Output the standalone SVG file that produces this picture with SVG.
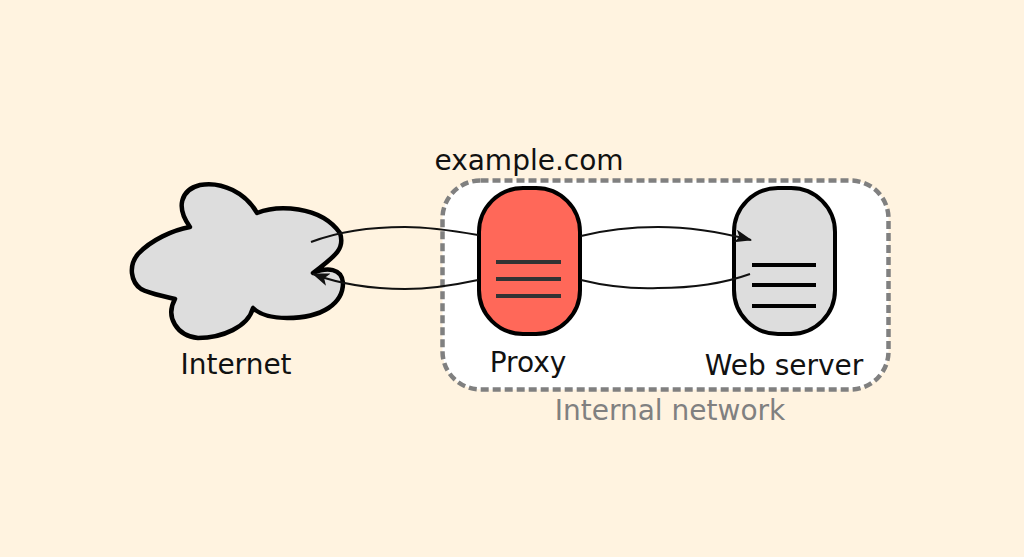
<svg xmlns="http://www.w3.org/2000/svg" width="1024" height="557" viewBox="0 0 1024 557">
<style>
text{font-family:"DejaVu Sans",sans-serif;font-size:28px;fill:#111}
.srv{stroke:#000;stroke-width:4}
.bar{stroke-width:4;fill:none}
.conn{fill:none;stroke:#111;stroke-width:2}
</style>
<defs>
<marker id="ah" viewBox="0 0 16 12" refX="15" refY="6" markerWidth="18" markerHeight="13" markerUnits="userSpaceOnUse" orient="auto"><path d="M0 0L16 6L0 12L4 6Z" fill="#111"/></marker>
</defs>
<rect width="1024" height="557" fill="#fff3e0"/>
<g id="internal-network">
<rect x="442.500" y="180.500" width="446" height="209" rx="38" fill="#fff" stroke="#808080" stroke-width="4.500" stroke-dasharray="8 4"/>
<text x="670" y="419.500" text-anchor="middle" style="fill:#808080">Internal network</text>
<text x="529" y="169.500" text-anchor="middle">example.com</text>
</g>
<g id="internet">
<path d="M190 227C176 208 180 190 200 185C222 181 246 193 257 213C277 205 320 205 340 233C345 248 337 255 313 273C327 267 342 268 343 283C343 303 323 318 287 318C270 318 260 315 253 308C248 327 222 338 198 338C177 336 165 317 175 299C160 295 150 294 141 289C131 282 128 266 138 254C151 240 173 230 190 227Z" fill="#ddd" stroke="#000" stroke-width="4.500" stroke-linejoin="round"/>
<text x="236" y="373.500" text-anchor="middle">Internet</text>
</g>
<g id="proxy">
<rect class="srv" x="479" y="188" width="101" height="146" rx="44" fill="#ff6859"/>
<path class="bar" stroke="#333" d="M496 262H561M496 279H561M496 296H561"/>
<text x="528" y="371.500" text-anchor="middle">Proxy</text>
</g>
<g id="web-server">
<rect class="srv" x="734" y="188" width="101" height="146" rx="44" fill="#ddd"/>
<path class="bar" stroke="#000" d="M752 265H816M752 285H816M752 306H816"/>
<text x="784" y="374.500" text-anchor="middle">Web server</text>
</g>
<g id="connectors">
<path class="conn" d="M311 242C340 231 370 227 405 227C430 227 455 231 478 235"/>
<path class="conn" d="M478 280C455 285 430 289 405 289C370 289 340 284 313 274" marker-end="url(#ah)"/>
<path class="conn" d="M581 236C605 230 630 227 658 227C690 227 720 232 751 240" marker-end="url(#ah)"/>
<path class="conn" d="M581 280C605 286 630 289 658 288C695 288 725 283 750 274"/>
</g>
</svg>
